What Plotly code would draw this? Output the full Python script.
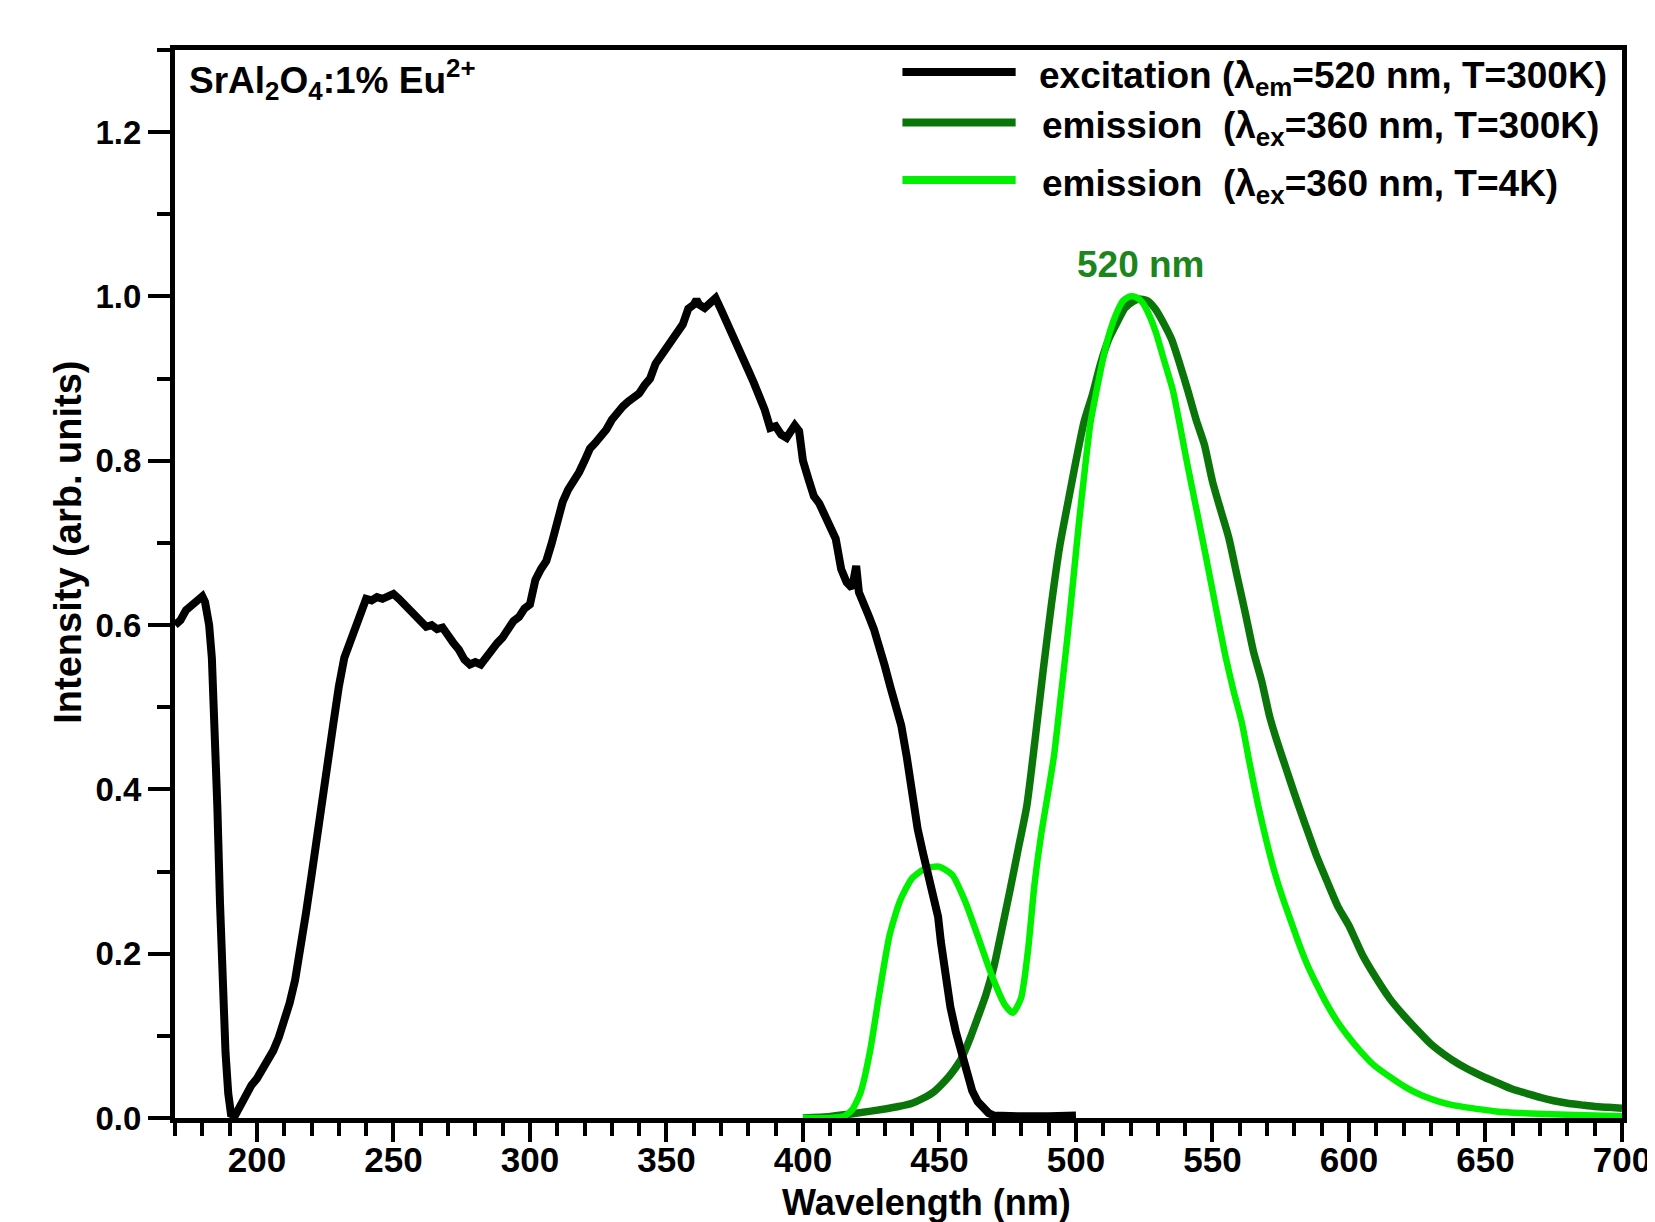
import plotly.graph_objects as go

# ---------------- data ----------------
exc_x = [170, 172, 174, 176, 178, 180, 181, 182.5, 183.5, 184.5, 185.5, 186.5, 187.5, 188.5, 189.5, 190.5,
         192, 194, 196, 198, 200, 202, 204, 206, 208, 210, 212, 214, 216, 218, 220, 222, 224, 226, 228, 230,
         232, 234, 236, 238, 240, 242, 244, 246, 248, 250, 252, 254, 256, 258, 260, 262, 264, 266, 268, 270,
         272, 274, 276, 278, 280, 282, 284, 286, 288, 290, 292, 294, 296, 298, 300, 302, 304, 306, 308, 310,
         312, 314, 316, 318, 320, 322, 324, 326, 328, 330, 332, 334, 336, 338, 340, 342, 344, 346, 348, 350,
         352, 354, 356, 358, 360, 361, 362, 364, 366, 368, 370, 372, 374, 376, 378, 380, 382, 384, 386, 388,
         390, 392, 394, 396, 397, 398.6, 400, 402, 404, 406, 408, 410, 412, 414, 416, 418, 419.5, 420.5, 422,
         424, 426, 428, 430, 432, 434, 436, 438, 440, 442, 444, 446, 448, 449.5, 450.5, 452, 454, 456, 458,
         460, 462, 464, 466, 468, 470, 475, 480, 490, 500]
exc_y = [0.600, 0.606, 0.618, 0.624, 0.630, 0.635, 0.628, 0.600, 0.560, 0.480, 0.380, 0.260, 0.150, 0.080,
         0.030, 0.005, 0.003, 0.015, 0.030, 0.040, 0.048, 0.058, 0.068, 0.082, 0.098, 0.118, 0.140, 0.168,
         0.205, 0.250, 0.295, 0.345, 0.388, 0.430, 0.480, 0.525, 0.560, 0.578, 0.594, 0.612, 0.632, 0.630,
         0.634, 0.632, 0.636, 0.638, 0.632, 0.625, 0.620, 0.610, 0.605, 0.598, 0.600, 0.595, 0.597, 0.585,
         0.578, 0.570, 0.558, 0.552, 0.555, 0.552, 0.562, 0.570, 0.578, 0.585, 0.595, 0.605, 0.610, 0.620,
         0.625, 0.655, 0.668, 0.678, 0.700, 0.728, 0.750, 0.765, 0.775, 0.786, 0.800, 0.815, 0.822, 0.830,
         0.838, 0.850, 0.860, 0.866, 0.872, 0.876, 0.882, 0.892, 0.900, 0.918, 0.928, 0.940, 0.950, 0.958,
         0.966, 0.985, 0.990, 0.996, 0.990, 0.986, 0.992, 0.998, 0.984, 0.968, 0.952, 0.940, 0.925, 0.910,
         0.895, 0.880, 0.862, 0.840, 0.842, 0.832, 0.828, 0.838, 0.843, 0.836, 0.800, 0.778, 0.757, 0.748,
         0.735, 0.722, 0.705, 0.668, 0.652, 0.645, 0.672, 0.640, 0.625, 0.612, 0.595, 0.575, 0.550, 0.525,
         0.505, 0.478, 0.440, 0.395, 0.352, 0.322, 0.290, 0.265, 0.245, 0.215, 0.178, 0.135, 0.105, 0.078,
         0.052, 0.033, 0.020, 0.011, 0.006, 0.003, 0.002, 0.002, 0.002, 0.003]

em300_x = [400, 410, 420, 430, 435, 440, 444, 448, 452, 455, 458, 461, 464, 467, 470, 473, 476, 479, 482,
           485, 488, 491, 494, 497, 500, 503, 506, 509, 512, 515, 518, 521, 523, 526, 529, 532, 535, 538, 541,
           544, 547, 550, 553, 556, 559, 562, 565, 568, 571, 574, 577, 580, 584, 588, 592, 596, 600, 605, 610,
           615, 620, 625, 630, 635, 640, 645, 650, 655, 660, 665, 670, 675, 680, 685, 690, 695, 700]
em300_y = [0.000, 0.002, 0.006, 0.011, 0.014, 0.018, 0.024, 0.032, 0.045, 0.057, 0.072, 0.095, 0.122, 0.150,
           0.185, 0.232, 0.280, 0.330, 0.380, 0.460, 0.545, 0.625, 0.695, 0.748, 0.800, 0.848, 0.880, 0.918,
           0.948, 0.968, 0.986, 0.994, 0.997, 0.995, 0.985, 0.968, 0.948, 0.918, 0.885, 0.850, 0.820, 0.775,
           0.740, 0.706, 0.660, 0.615, 0.568, 0.532, 0.488, 0.455, 0.425, 0.395, 0.357, 0.320, 0.288, 0.257,
           0.234, 0.198, 0.170, 0.145, 0.125, 0.107, 0.090, 0.077, 0.066, 0.057, 0.049, 0.042, 0.035, 0.030,
           0.025, 0.021, 0.018, 0.016, 0.014, 0.013, 0.012]

em4_x = [400, 410, 415, 418, 421, 424.5, 428, 431.7, 435.4, 440, 445, 449.8, 454.7, 459.5, 464.3, 469.1,
         473.9, 476.9, 479.9, 482.4, 484.8, 487.2, 490, 492, 494.5, 496.8, 499, 501.1, 503.2, 505.3, 507.7,
         510.1, 512.5, 514.9, 517.3, 519.7, 522, 524.5, 527, 529.3, 532.3, 535.4, 537.8, 540.2, 542.6, 545.1,
         547.5, 549.9, 552.3, 554.7, 557.7, 560.7, 563.7, 566.7, 569.7, 572.7, 575.7, 578.8, 581.8, 584.8,
         588.4, 592, 595.6, 599.3, 604, 608.9, 615, 621, 627, 633, 639, 645, 654, 663, 680, 700]
em4_y = [0.000, 0.000, 0.002, 0.010, 0.030, 0.080, 0.152, 0.222, 0.263, 0.292, 0.304, 0.306, 0.296, 0.263,
         0.219, 0.174, 0.138, 0.128, 0.146, 0.203, 0.284, 0.344, 0.400, 0.442, 0.515, 0.583, 0.655, 0.725,
         0.788, 0.846, 0.888, 0.927, 0.958, 0.980, 0.995, 1.000, 0.999, 0.992, 0.976, 0.956, 0.922, 0.887,
         0.848, 0.806, 0.766, 0.725, 0.685, 0.644, 0.603, 0.563, 0.520, 0.482, 0.430, 0.381, 0.338, 0.300,
         0.268, 0.239, 0.211, 0.186, 0.161, 0.138, 0.118, 0.101, 0.082, 0.065, 0.050, 0.037, 0.027, 0.020,
         0.015, 0.012, 0.008, 0.006, 0.004, 0.002]

series_names = [
    "excitation (λ<sub>em</sub>=520 nm, T=300K)",
    "emission  (λ<sub>ex</sub>=360 nm, T=300K)",
    "emission  (λ<sub>ex</sub>=360 nm, T=4K)",
]
series_colors = ["#000000", "#0A760A", "#00F000"]
sample_label = "SrAl<sub>2</sub>O<sub>4</sub>:1% Eu<sup>2+</sup>"
peak_label = "520 nm"
peak_pos = (524, 1.012)

x_ticks = [200, 250, 300, 350, 400, 450, 500, 550, 600, 650, 700]
y_ticks = [0.0, 0.2, 0.4, 0.6, 0.8, 1.0, 1.2]

# ---------------- figure ----------------
W, H = 1655, 1222
L, R, T, B = 167, 18, 42, 112
FONT = "Liberation Sans, Arial, Helvetica, sans-serif"

fig = go.Figure()
fig.add_trace(go.Scatter(x=em300_x, y=em300_y, mode="lines",
                         line=dict(color=series_colors[1], width=7.5, shape="spline", smoothing=0.6),
                         showlegend=False))
fig.add_trace(go.Scatter(x=em4_x, y=em4_y, mode="lines",
                         line=dict(color=series_colors[2], width=6.5, shape="spline", smoothing=0.6),
                         showlegend=False))
fig.add_trace(go.Scatter(x=exc_x, y=exc_y, mode="lines",
                         line=dict(color=series_colors[0], width=8), showlegend=False))

pw, ph = W - L - R, H - T - B


def px(xp):
    return (xp - L) / pw


def py(yp):
    return (H - B - yp) / ph


# manual legend (line samples + labels), positioned in paper space
legend_rows_y = [64, 114.5, 172]
legend_text_x = [1043, 1046, 1046]
for i, name in enumerate(series_names):
    fig.add_shape(type="line", xref="paper", yref="paper",
                  x0=px(906), x1=px(1021), y0=py(legend_rows_y[i]), y1=py(legend_rows_y[i]),
                  line=dict(color=series_colors[i], width=8))
    fig.add_annotation(xref="paper", yref="paper", x=px(legend_text_x[i]), y=py(legend_rows_y[i] - 19.5),
                       xanchor="left", yanchor="top", showarrow=False, text=name,
                       font=dict(family=FONT, size=37, color="#000000", weight="bold"))

fig.add_annotation(xref="paper", yref="paper", x=px(179), y=py(44), xanchor="left", yanchor="top",
                   showarrow=False, text=sample_label,
                   font=dict(family=FONT, size=37, color="#000000", weight="bold"))
fig.add_annotation(x=peak_pos[0], y=peak_pos[1], xanchor="center", yanchor="bottom", showarrow=False,
                   text=peak_label, font=dict(family=FONT, size=37, color="#1C861C", weight="bold"))

# axis titles as annotations (positioned like the reference)
fig.add_annotation(xref="paper", yref="paper", x=px(930), y=py(1194), xanchor="center", yanchor="middle",
                   showarrow=False, text="Wavelength (nm)",
                   font=dict(family=FONT, size=36, color="#000000", weight="bold"))
fig.add_annotation(xref="paper", yref="paper", x=px(58), y=py(534), xanchor="center", yanchor="middle",
                   showarrow=False, text="Intensity (arb. units)", textangle=-90,
                   font=dict(family=FONT, size=38, color="#000000", weight="bold"))

fig.update_layout(
    width=W, height=H,
    margin=dict(l=L, r=R, t=T, b=B),
    paper_bgcolor="white", plot_bgcolor="white",
    font=dict(family=FONT, color="#000000", weight="bold"),
    showlegend=False,
)
fig.update_xaxes(
    range=[170, 700], tickmode="array", tickvals=x_ticks, ticktext=[str(v) for v in x_ticks],
    ticks="outside", ticklen=19, tickwidth=4, tickcolor="black", ticklabelstandoff=-12,
    ticklabeloverflow="allow",
    minor=dict(dtick=10, tick0=170, ticks="outside", ticklen=13, tickwidth=4, tickcolor="black",
               showgrid=False),
    showline=True, linewidth=5, linecolor="black", mirror=True,
    showgrid=False, zeroline=False,
    tickfont=dict(family=FONT, size=35, color="black", weight="bold"),
)
fig.update_yaxes(
    range=[0, 1.3], tickmode="array", tickvals=y_ticks, ticktext=[f"{v:.1f}" for v in y_ticks],
    ticks="outside", ticklen=22, tickwidth=4, tickcolor="black",
    minor=dict(dtick=0.1, tick0=0, ticks="outside", ticklen=13, tickwidth=4, tickcolor="black",
               showgrid=False),
    showline=True, linewidth=5, linecolor="black", mirror=True,
    showgrid=False, zeroline=False,
    tickfont=dict(family=FONT, size=33, color="black", weight="bold"),
)

fig.write_html("out.html")
